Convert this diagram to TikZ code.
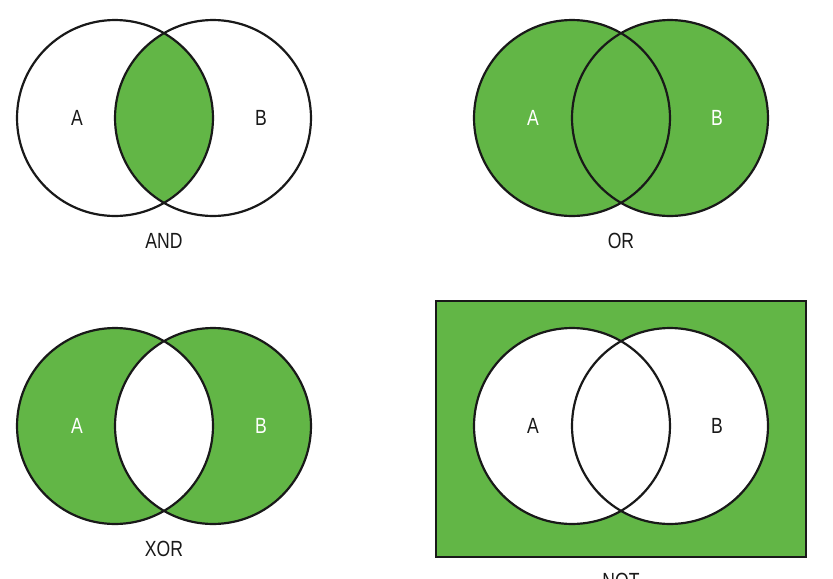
\documentclass[tikz,border=0pt]{standalone}
\usepackage{fontspec}
\newfontfamily\lblfont{Liberation Sans}[FakeStretch=0.8]
\definecolor{setgreen}{RGB}{98,182,70}

\begin{document}
\begin{tikzpicture}[
    x=0.02cm,
    y=-0.02cm,
    ring/.style={draw=black!90, line width=1.25pt},
    lbl/.style={font=\lblfont\fontsize{12.5}{14}\selectfont, text=black!90},
    inlbl/.style={lbl, text=white}
  ]
  \useasboundingbox (0,0) rectangle (833,579);

  % AND
  \begin{scope}
    \clip (115,118) circle[radius=1.96cm];
    \fill[setgreen] (213,118) circle[radius=1.96cm];
  \end{scope}
  \draw[ring] (115,118) circle[radius=1.96cm] (213,118) circle[radius=1.96cm];
  \node[lbl] (andA) at (77,118) {A};
  \node[lbl] (andB) at (261,118) {B};
  \node[lbl] (andlbl) at (164,241) {AND};

  % OR
  \fill[setgreen] (572,118) circle[radius=1.96cm] (670,118) circle[radius=1.96cm];
  \draw[ring] (572,118) circle[radius=1.96cm] (670,118) circle[radius=1.96cm];
  \node[inlbl] (orA) at (533,118) {A};
  \node[inlbl] (orB) at (717,118) {B};
  \node[lbl] (orlbl) at (621,241) {OR};

  % XOR
  \fill[setgreen, even odd rule] (115,426) circle[radius=1.96cm] (213,426) circle[radius=1.96cm];
  \draw[ring] (115,426) circle[radius=1.96cm] (213,426) circle[radius=1.96cm];
  \node[inlbl] (xorA) at (77,426) {A};
  \node[inlbl] (xorB) at (261,426) {B};
  \node[lbl] (xorlbl) at (164,549) {XOR};

  % NOT
  \draw[ring, fill=setgreen] (436,301) rectangle (806,557);
  \fill[white] (572,426) circle[radius=1.96cm] (670,426) circle[radius=1.96cm];
  \draw[ring] (572,426) circle[radius=1.96cm] (670,426) circle[radius=1.96cm];
  \node[lbl] (notA) at (533,426) {A};
  \node[lbl] (notB) at (717,426) {B};
  \node[lbl] (notlbl) at (621,581) {NOT};

\end{tikzpicture}
\end{document}
